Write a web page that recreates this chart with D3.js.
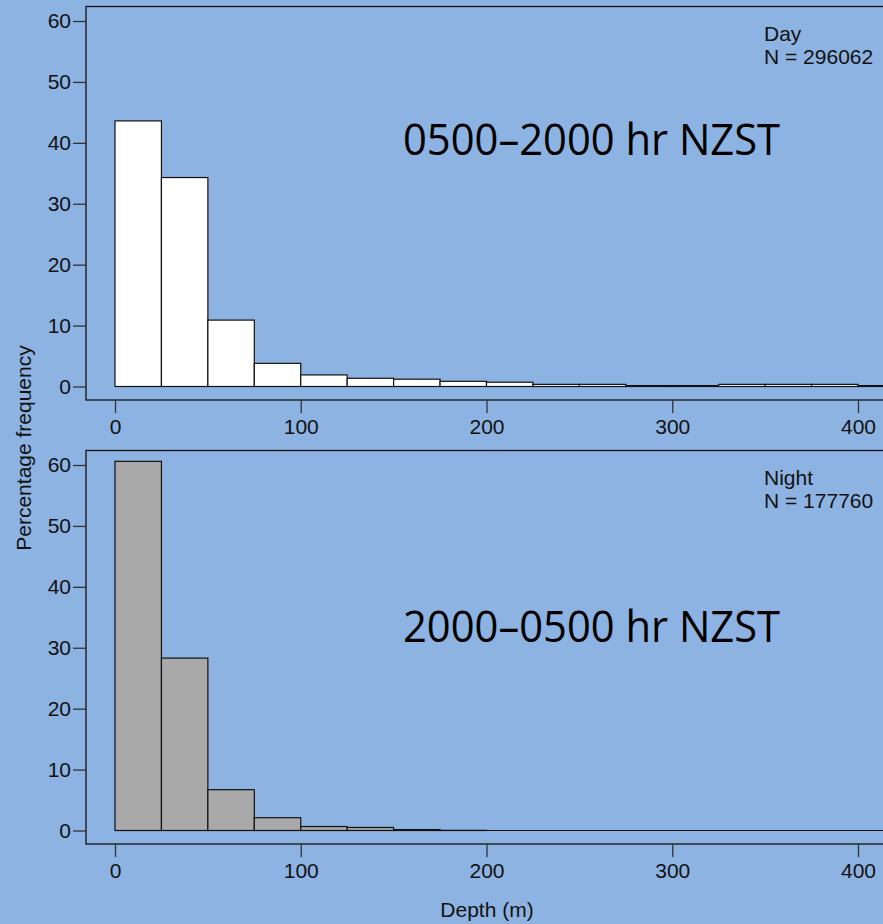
<!DOCTYPE html>
<html>
<head>
<meta charset="utf-8">
<script src="https://cdn.jsdelivr.net/npm/d3@7"></script>
<style>
  html, body { margin: 0; padding: 0; background: #8db3e2; }
  svg { display: block; }
</style>
</head>
<body>
<svg id="chart" width="883" height="924"></svg>
<script>
// histogram bins (25 m wide), percentage frequency
const binStarts = [0, 25, 50, 75, 100, 125, 150, 175, 200, 225, 250, 275, 300, 325, 350, 375, 400, 425];
const dayPct   = [43.6, 34.3, 10.9, 3.8, 1.9, 1.35, 1.2, 0.85, 0.7, 0.35, 0.35, 0.15, 0.15, 0.35, 0.35, 0.35, 0.15, 0.15];
const nightPct = [60.6, 28.3, 6.7, 2.1, 0.65, 0.5, 0.15, 0.03, 0, 0, 0, 0, 0, 0, 0, 0, 0, 0];
const xTicks = [0, 100, 200, 300, 400];
const yTicks = [0, 10, 20, 30, 40, 50, 60];

const panels = [
  { data: dayPct,   fill: "#ffffff", top: 6,   label: "Day",   n: "N = 296062", period: "0500\u20132000 hr NZST", periodY: 149 },
  { data: nightPct, fill: "#a9a9a9", top: 450, label: "Night", n: "N = 177760", period: "2000\u20130500 hr NZST", periodY: 192 }
];

const svg = d3.select("#chart");
const font = "Liberation Sans, Arial, sans-serif";
const ink = "#111";

const x = d3.scaleLinear().domain([0, 400]).range([115, 858]);

panels.forEach(p => {
  const g = svg.append("g").attr("transform", `translate(0,${p.top})`);
  // y(60) ~ 15 px below box top, y(0) ~ 14 px above box bottom
  const y = d3.scaleLinear().domain([0, 60]).range([380.5, 15]);
  const boxBottom = 394;

  // frame
  g.append("rect")
    .attr("x", 86).attr("y", 0.5)
    .attr("width", 830).attr("height", boxBottom - 0.5)
    .attr("fill", "none").attr("stroke", ink).attr("stroke-width", 1.3);

  // bars
  g.append("g").selectAll("rect")
    .data(p.data.map((v, i) => ({ x0: binStarts[i], v })))
    .join("rect")
    .attr("x", d => x(d.x0))
    .attr("width", d => x(d.x0 + 25) - x(d.x0))
    .attr("y", d => y(d.v))
    .attr("height", d => y(0) - y(d.v))
    .attr("fill", p.fill)
    .attr("stroke", ink)
    .attr("stroke-width", 1.2);

  // baseline
  g.append("line")
    .attr("x1", x(0)).attr("x2", 900)
    .attr("y1", y(0)).attr("y2", y(0))
    .attr("stroke", ink).attr("stroke-width", 1.2);

  // y axis
  const ya = g.append("g").attr("transform", "translate(86,0)")
    .call(d3.axisLeft(y).tickValues(yTicks).tickSize(13).tickPadding(2));
  ya.select(".domain").remove();
  ya.selectAll(".tick line").attr("stroke", "#333").attr("stroke-width", 1.3);
  ya.selectAll("text").attr("font-family", font).attr("font-size", 21).attr("fill", ink);

  // x axis
  const xa = g.append("g").attr("transform", `translate(0,${boxBottom})`)
    .call(d3.axisBottom(x).tickValues(xTicks).tickSize(13).tickPadding(6));
  xa.select(".domain").remove();
  xa.selectAll(".tick line").attr("stroke", "#333").attr("stroke-width", 1.3);
  xa.selectAll("text").attr("font-family", font).attr("font-size", 21).attr("fill", ink);

  // labels
  g.append("text").attr("x", 764).attr("y", 35)
    .attr("font-family", font).attr("font-size", 21).attr("fill", ink).text(p.label);
  g.append("text").attr("x", 764).attr("y", 58)
    .attr("font-family", font).attr("font-size", 21).attr("fill", ink).text(p.n);

  g.append("text").attr("x", 403).attr("y", p.periodY)
    .attr("font-family", "Open Sans, Noto Sans, sans-serif")
    .attr("font-size", 44).attr("fill", "#000")
    .attr("textLength", 377).attr("lengthAdjust", "spacingAndGlyphs")
    .text(p.period);
});

svg.append("text")
  .attr("transform", "translate(31,448) rotate(-90)")
  .attr("text-anchor", "middle")
  .attr("font-family", font).attr("font-size", 21).attr("fill", ink)
  .text("Percentage frequency");

svg.append("text")
  .attr("x", 487).attr("y", 917)
  .attr("text-anchor", "middle")
  .attr("font-family", font).attr("font-size", 21).attr("fill", ink)
  .text("Depth (m)");
</script>
</body>
</html>
